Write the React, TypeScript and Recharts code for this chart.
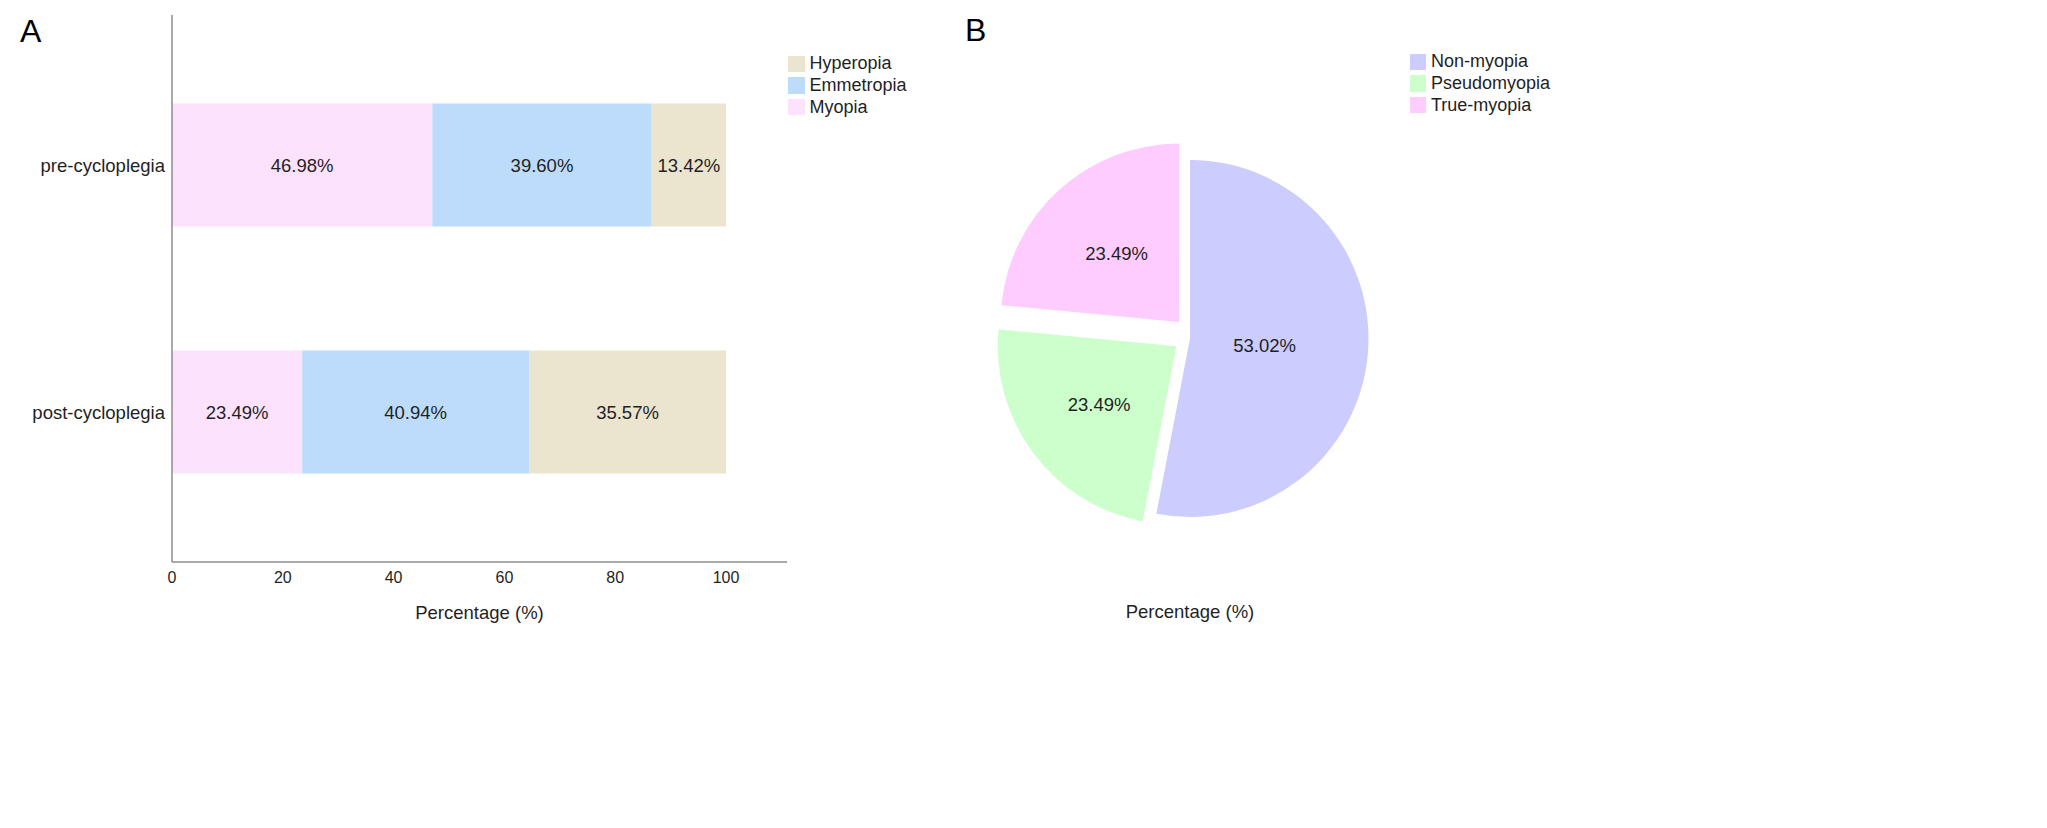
import React from 'react';
import { BarChart, Bar, XAxis, YAxis, LabelList, Legend, PieChart, Pie, Cell } from 'recharts';

// panel A: refraction status before / after cycloplegia (%)
const groups = ['pre-cycloplegia', 'post-cycloplegia'];
const myopia = [46.98, 23.49];
const emmetropia = [39.6, 40.94];
const hyperopia = [13.42, 35.57];
const percentTicks = [0, 20, 40, 60, 80, 100];
const barSeries = ['Myopia', 'Emmetropia', 'Hyperopia'] as const;

// panel B: myopia breakdown (%)
const pieNames = ['Non-myopia', 'Pseudomyopia', 'True-myopia'];
const pieValues = [53.02, 23.49, 23.49];

const FONT = '"Liberation Sans", Arial, sans-serif';
const TEXT = '#1f1f1f';
const AXIS = '#8c8c8c';

const barColors = { Myopia: '#fde2fd', Emmetropia: '#bddcfc', Hyperopia: '#ebe4cf' };
const pieColors = ['#ccccff', '#ccffcc', '#ffccff'];
// exploded slices: offset of each slice, and label distance as a share of the radius
const sliceShift = [[0, 0], [-13.7, 7.7], [-10.9, -16.4]];
const labelRadius = [0.42, 0.54, 0.52];

const barRows = groups.map((group, i) => ({
  group,
  Myopia: myopia[i],
  Emmetropia: emmetropia[i],
  Hyperopia: hyperopia[i],
}));
const pieRows = pieNames.map((name, i) => ({ name, value: pieValues[i] }));

const pct = (v: number) => `${Number(v).toFixed(2)}%`;
const RADIAN = Math.PI / 180;

// legend keeps the order it is given, not recharts' alphabetical sort
const SwatchLegend = ({ payload, order }: any) => {
  const list = payload || [];
  const items = order.map((name: string) => list.find((p: any) => p.value === name)).filter(Boolean);
  return (
    <div style={{ fontFamily: FONT, fontSize: 18, color: TEXT }}>
      {items.map((item: any) => (
        <div key={item.value} style={{ display: 'flex', alignItems: 'center', height: 21.7 }}>
          <span style={{ width: 16.5, height: 16.5, background: item.color, marginRight: 5, flex: 'none' }} />
          <span style={{ whiteSpace: 'nowrap' }}>{item.value}</span>
        </div>
      ))}
    </div>
  );
};

const renderPieLabel = (props: any) => {
  const { cx, cy, midAngle, outerRadius, index, value } = props;
  const r = outerRadius * labelRadius[index];
  const [dx, dy] = sliceShift[index];
  const x = cx + r * Math.cos(-midAngle * RADIAN) + dx;
  const y = cy + r * Math.sin(-midAngle * RADIAN) + dy;
  return (
    <text x={x} y={y} textAnchor="middle" dominantBaseline="central" fontFamily={FONT} fontSize={18.5} fill={TEXT}>
      {pct(value)}
    </text>
  );
};

const panelLetter: React.CSSProperties = {
  position: 'absolute',
  fontFamily: FONT,
  fontSize: 32,
  lineHeight: '32px',
  color: '#000',
};

const App = () => {
  return (
    <div style={{ position: 'absolute', left: 0, top: 0, width: 2047, height: 828, background: '#fff' }}>
      <div style={{ ...panelLetter, left: 20, top: 15 }}>A</div>
      <div style={{ ...panelLetter, left: 965, top: 13.5 }}>B</div>

      <div style={{ position: 'absolute', left: 0, top: 0 }}>
        <BarChart
          width={980}
          height={660}
          layout="vertical"
          data={barRows}
          margin={{ top: 15, right: 193, bottom: 38, left: 0 }}
          barSize={123}
        >
          <XAxis
            type="number"
            domain={[0, 111]}
            ticks={percentTicks}
            interval={0}
            height={60}
            tickLine={false}
            tickMargin={4}
            axisLine={{ stroke: AXIS, strokeWidth: 1.5 }}
            tick={{ fill: TEXT, fontSize: 16, fontFamily: FONT }}
            label={{ value: 'Percentage (%)', position: 'insideBottom', offset: 3, fill: TEXT, fontSize: 18.5, fontFamily: FONT }}
          />
          <YAxis
            type="category"
            dataKey="group"
            width={172}
            padding={{ top: 26.5, bottom: 26.5 }}
            tickLine={false}
            tickMargin={1}
            axisLine={{ stroke: AXIS, strokeWidth: 1.5 }}
            tick={{ fill: TEXT, fontSize: 18.5, fontFamily: FONT }}
          />
          <Legend
            layout="horizontal"
            align="center"
            verticalAlign="middle"
            wrapperStyle={{ left: 788, top: 53, width: 'auto', height: 'auto' }}
            content={(p: any) => <SwatchLegend {...p} order={[...barSeries].reverse()} />}
          />
          {barSeries.map((key) => (
            <Bar key={key} dataKey={key} name={key} stackId="refraction" fill={barColors[key]} isAnimationActive={false}>
              <LabelList dataKey={key} position="center" formatter={pct} fill={TEXT} fontSize={18.5} fontFamily={FONT} />
            </Bar>
          ))}
        </BarChart>
      </div>

      <div style={{ position: 'absolute', left: 960, top: 0 }}>
        <PieChart width={1087} height={700} margin={{ top: 0, right: 0, bottom: 0, left: 0 }}>
          <Pie
            data={pieRows}
            dataKey="value"
            nameKey="name"
            cx={230}
            cy={338.5}
            outerRadius={178.5}
            startAngle={90}
            endAngle={-270}
            stroke="none"
            labelLine={false}
            label={renderPieLabel}
            isAnimationActive={false}
          >
            {pieRows.map((row, i) => (
              <Cell key={row.name} fill={pieColors[i]} transform={`translate(${sliceShift[i][0]},${sliceShift[i][1]})`} />
            ))}
          </Pie>
          <Legend
            layout="horizontal"
            align="center"
            verticalAlign="middle"
            wrapperStyle={{ left: 1409.5 - 960, top: 51, width: 'auto', height: 'auto' }}
            content={(p: any) => <SwatchLegend {...p} order={pieNames} />}
          />
        </PieChart>
        <div
          style={{
            position: 'absolute',
            left: 1190 - 960,
            top: 612,
            transform: 'translate(-50%, -50%)',
            fontFamily: FONT,
            fontSize: 18.5,
            color: TEXT,
            whiteSpace: 'nowrap',
          }}
        >
          Percentage (%)
        </div>
      </div>
    </div>
  );
};

export default App;
